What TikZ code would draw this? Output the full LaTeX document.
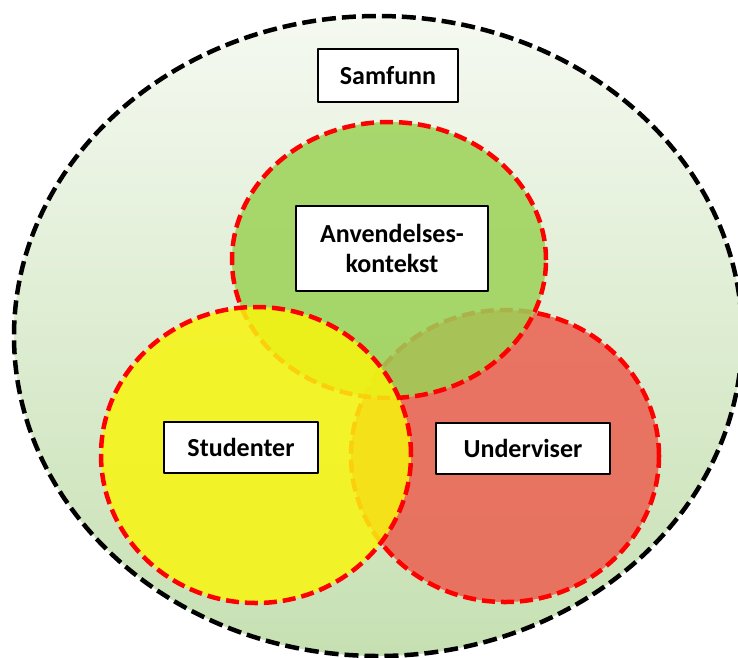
\documentclass[tikz,border=0pt]{standalone}
\usepackage{fontspec}
\setmainfont{Carlito}
\definecolor{skytop}{RGB}{245,249,241}
\definecolor{skybottom}{RGB}{198,224,178}
\definecolor{ctxgreen}{RGB}{156,210,87}
\definecolor{stuyellow}{RGB}{248,245,14}
\definecolor{teachred}{RGB}{235,95,80}

\begin{document}
\begin{tikzpicture}[line cap=butt,line join=round,x=1pt,y=-1pt,
  ring/.style={draw=red,line width=4.5pt,dash pattern=on 13pt off 6pt,fill opacity=0.85},
  tag/.style={draw=black,line width=1.3pt,fill=white,inner sep=0pt,align=center,
    font=\fontsize{26}{30}\selectfont\bfseries}]
\useasboundingbox (0,0) rectangle (738,657);
\draw [top color=skytop, bottom color=skybottom, line width=4.5pt, dash pattern=on 14pt off 6pt]
  (378,336) ellipse [x radius=364pt, y radius=320pt];
\draw [ring, fill=teachred] (505,456) ellipse [x radius=154pt, y radius=146pt];
\draw [ring, fill=ctxgreen] (389,260) ellipse [x radius=157pt, y radius=138pt];
\draw [ring, fill=stuyellow] (256,455) ellipse [x radius=155pt, y radius=148pt];
\node [tag, minimum width=140pt, minimum height=53pt] (samfunn) at (388,75.5) {Samfunn};
\node [tag, minimum width=192pt, minimum height=85pt] (kontekst) at (392,248.5) {Anvendelses-\\kontekst};
\node [tag, minimum width=154pt, minimum height=51pt] (studenter) at (241,447.5) {Studenter};
\node [tag, minimum width=174pt, minimum height=51pt] (underviser) at (523,448.5) {Underviser};
\end{tikzpicture}
\end{document}
